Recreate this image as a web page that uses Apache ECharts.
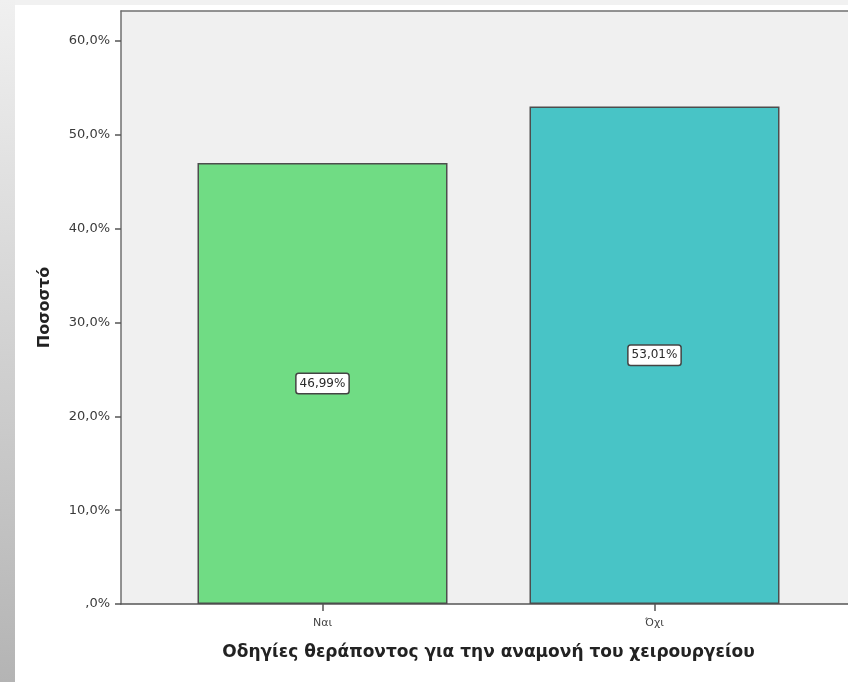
<!DOCTYPE html>
<html>
<head>
<meta charset="utf-8">
<script src="https://cdn.jsdelivr.net/npm/echarts@6/dist/echarts.min.js"></script>
<style>
  html, body { margin: 0; padding: 0; background: #ffffff; }
  #chart { width: 848px; height: 682px; }
</style>
</head>
<body>
<div id="chart"></div>
<script>
// Answers and their percentages
const categories = ['Ναι', 'Όχι'];
const percentages = [46.99, 53.01];
const barColors = ['#70dc84', '#48c4c6'];
const yTicks = [0, 10, 20, 30, 40, 50, 60];

const xTitle = 'Οδηγίες θεράποντος για την αναμονή του χειρουργείου';
const yTitle = 'Ποσοστό';

const Y_MAX = 63.2;
const FONT = '"DejaVu Sans", sans-serif';

function pct(v, digits) {
  if (v === 0) return ',0%';
  return v.toFixed(digits).replace('.', ',') + '%';
}

const chart = echarts.init(document.getElementById('chart'), null, { renderer: 'canvas' });

chart.setOption({
  animation: false,
  backgroundColor: '#ffffff',
  textStyle: { fontFamily: FONT },
  graphic: [
    // thin grey band along the top and a shaded strip down the left edge
    { type: 'rect', z: -10, shape: { x: 0, y: 0, width: 848, height: 5 },
      style: { fill: '#f1f1f1' } },
    { type: 'rect', z: -10, shape: { x: 0, y: 0, width: 15, height: 682 },
      style: { fill: new echarts.graphic.LinearGradient(0, 0, 0, 1, [
        { offset: 0, color: '#f0f0f0' },
        { offset: 1, color: '#b4b4b4' }
      ]) } }
  ],
  grid: [
    // plot area running off the right edge, with the value axis
    { left: 121, top: 11, right: 0, bottom: 78, show: true,
      backgroundColor: '#f0f0f0', borderWidth: 0 },
    // bars and category axis
    { left: 156.5, right: 27.5, top: 11, bottom: 78 }
  ],
  xAxis: [
    { type: 'value', gridIndex: 0, min: 0, max: 1, position: 'bottom',
      axisLine: { show: true, lineStyle: { color: '#555555', width: 1.5 } },
      axisTick: { show: false }, axisLabel: { show: false }, splitLine: { show: false } },
    { type: 'category', gridIndex: 1, data: categories,
      axisLine: { show: false },
      axisTick: { show: true, alignWithLabel: true, length: 7,
        lineStyle: { color: '#555555', width: 1.5 } },
      axisLabel: { margin: 14, fontSize: 11, color: '#444444', fontFamily: FONT },
      name: xTitle, nameLocation: 'middle', nameGap: 40,
      nameTextStyle: { fontSize: 17, fontWeight: 'bold', color: '#222222', fontFamily: FONT }
    },
    // top edge of the frame
    { type: 'value', gridIndex: 0, min: 0, max: 1, position: 'top',
      axisLine: { show: true, lineStyle: { color: '#707070', width: 1.5 } },
      axisTick: { show: false }, axisLabel: { show: false }, splitLine: { show: false } }
  ],
  yAxis: [
    { type: 'value', gridIndex: 0, min: 0, max: Y_MAX, interval: 10,
      axisLine: { show: true, lineStyle: { color: '#707070', width: 1.5 } },
      axisTick: { show: true, inside: false, length: 6,
        lineStyle: { color: '#555555', width: 1.5 } },
      axisLabel: { showMaxLabel: false, margin: 11, fontSize: 13, color: '#3a3a3a',
        fontFamily: FONT,
        formatter: function (v) { return yTicks.indexOf(v) >= 0 ? pct(v, 1) : ''; } },
      splitLine: { show: false },
      name: yTitle, nameLocation: 'middle', nameGap: 68, nameRotate: 90,
      nameTextStyle: { fontSize: 16, fontWeight: 'bold', color: '#222222', fontFamily: FONT }
    },
    { type: 'value', gridIndex: 1, min: 0, max: Y_MAX, show: false }
  ],
  series: [{
    type: 'bar',
    xAxisIndex: 1,
    yAxisIndex: 1,
    barWidth: 250,
    data: percentages.map(function (v, i) {
      return { value: v, itemStyle: { color: barColors[i] } };
    }),
    itemStyle: { borderColor: '#4d4d4d', borderWidth: 1.5 },
    label: {
      show: true,
      position: 'inside',
      formatter: function (p) { return pct(p.value, 2); },
      fontSize: 12,
      color: '#2a2a2a',
      fontFamily: FONT,
      backgroundColor: '#ffffff',
      borderColor: '#444444',
      borderWidth: 1.5,
      borderRadius: 2,
      padding: [4, 3, 3, 3]
    }
  }]
});
</script>
</body>
</html>
